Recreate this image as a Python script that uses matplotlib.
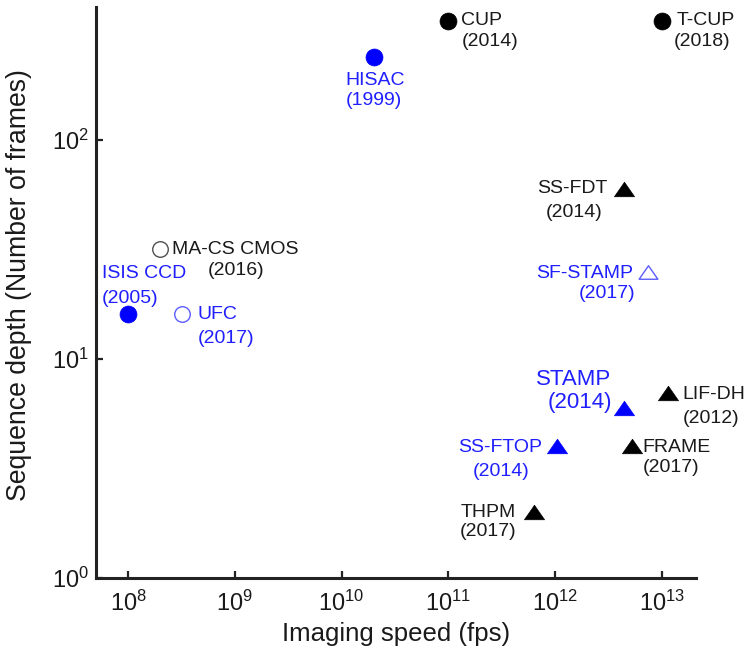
import numpy as np
import matplotlib
matplotlib.use("Agg")
import matplotlib.pyplot as plt
from matplotlib.path import Path
from matplotlib.ticker import LogLocator, NullLocator

plt.rcParams['font.family'] = ['Liberation Sans', 'DejaVu Sans']

# imaging techniques
names = ['CUP', 'T-CUP', 'HISAC', 'MA-CS CMOS', 'ISIS CCD', 'UFC', 'SS-FDT',
         'SF-STAMP', 'STAMP', 'LIF-DH', 'SS-FTOP', 'FRAME', 'THPM']
years = [2014, 2018, 1999, 2016, 2005, 2017, 2014,
         2017, 2014, 2012, 2014, 2017, 2017]
speed_fps = [1e11, 1e13, 2e10, 2e8, 1e8, 3.2e8, 4.4e12,
             7.5e12, 4.4e12, 1.15e13, 1.05e12, 5.2e12, 6.3e11]
depth_frames = [350, 350, 240, 32, 16, 16, 60,
                25, 6, 7, 4, 4, 2]
# marker shape, colour group, filled or not
shape = ['circle', 'circle', 'circle', 'circle', 'circle', 'circle', 'triangle',
         'triangle', 'triangle', 'triangle', 'triangle', 'triangle', 'triangle']
group = ['black', 'black', 'blue', 'black', 'blue', 'blue', 'black',
         'blue', 'blue', 'black', 'blue', 'black', 'black']
filled = [True, True, True, False, True, False, True,
          False, True, True, True, True, True]

# label layout: (dx, dy, ha) in pixels for name and year, y down positive
name_pos = [(13, 0, 'left'), (15, 0, 'left'), (1, 24, 'center'), (12, 1, 'left'),
            (-26, -41, 'left'), (16, 0, 'left'), (-16, 0, 'right'),
            (-15, 1, 'right'), (-13, -28, 'right'), (14, 1, 'left'),
            (-15, 1, 'right'), (11, 1, 'left'), (-18, 0, 'right')]
year_pos = [(13, 21, 'left'), (12, 21, 'left'), (0, 44, 'center'), (48, 22, 'left'),
            (-26, -16, 'left'), (16, 24, 'left'), (-21, 24, 'right'),
            (-13, 21, 'right'), (-12, -5, 'right'), (14, 25, 'left'),
            (-28, 25, 'right'), (11, 21, 'left'), (-17, 19, 'right')]

solid = {'black': '#000000', 'blue': '#0000ff'}
outline = {'black': '#505050', 'blue': '#5c5cff'}
text_col = {'black': '#1a1a1a', 'blue': '#1f1fff'}

# flat triangle (wider than tall)
tri = Path([(-1, -0.72), (1, -0.72), (0, 0.72), (-1, -0.72)],
           [Path.MOVETO, Path.LINETO, Path.LINETO, Path.CLOSEPOLY])

fig = plt.figure(figsize=(7.5, 6.49), dpi=100)
ax = fig.add_axes([0.128, 0.109, 0.80, 0.880])

for i in range(len(names)):
    mk = 'o' if shape[i] == 'circle' else tri
    ms = 12.2 if shape[i] == 'circle' else 14.5
    if filled[i]:
        ax.plot(speed_fps[i], depth_frames[i], marker=mk, ms=ms, ls='none',
                mfc=solid[group[i]], mec=solid[group[i]], mew=0.5)
    else:
        ax.plot(speed_fps[i], depth_frames[i], marker=mk, ms=ms - 1, ls='none',
                mfc='white', mec=outline[group[i]], mew=1.0)

    fs = 16 if names[i] == 'STAMP' else 14
    for txt, (dx, dy, ha) in [(names[i], name_pos[i]), ('(%d)' % years[i], year_pos[i])]:
        ax.annotate(txt, (speed_fps[i], depth_frames[i]), xytext=(dx, -dy),
                    textcoords='offset pixels', ha=ha, va='center',
                    fontsize=fs, color=text_col[group[i]])

ax.set_xscale('log')
ax.set_yscale('log')
ax.set_xlim(10**7.70, 10**13.32)
ax.set_ylim(1, 10**2.607)
ax.xaxis.set_major_locator(LogLocator(base=10, numticks=20))
ax.yaxis.set_major_locator(LogLocator(base=10, numticks=20))
ax.xaxis.set_minor_locator(NullLocator())
ax.yaxis.set_minor_locator(NullLocator())

for s in ['top', 'right']:
    ax.spines[s].set_visible(False)
for s in ['left', 'bottom']:
    ax.spines[s].set_linewidth(2.2)
    ax.spines[s].set_color('#222222')
ax.tick_params(direction='in', length=5, width=1.6, color='#222222',
               labelsize=17, labelcolor='#1a1a1a')
ax.tick_params(axis='x', pad=9)
ax.tick_params(axis='y', pad=5)

ax.set_xlabel('Imaging speed (fps)', fontsize=18.5, color='#1a1a1a', labelpad=4)
ax.set_ylabel('Sequence depth (Number of frames)', fontsize=19.2, color='#1a1a1a')
ax.yaxis.set_label_coords(-0.107, 0.513)

fig.savefig('out.png', dpi=100)
